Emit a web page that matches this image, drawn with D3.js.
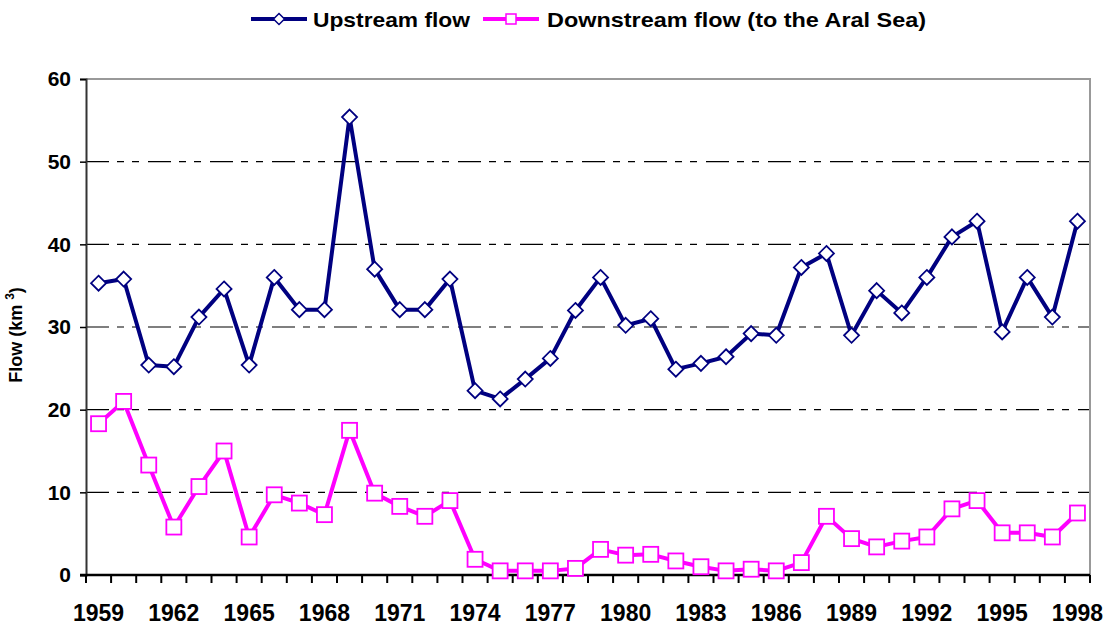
<!DOCTYPE html>
<html>
<head>
<meta charset="utf-8">
<script src="https://cdn.jsdelivr.net/npm/d3@7"></script>
<style>
  body { margin: 0; background: #fff; }
  text { font-family: Arial, "Liberation Sans", sans-serif; font-weight: bold; fill: #000; }
</style>
</head>
<body>
<div id="chart"></div>
<script>
var years = d3.range(1959, 1999);

var upstream = [35.3, 35.8, 25.4, 25.2, 31.2, 34.6, 25.4, 36.0, 32.1, 32.1,
                55.4, 37.0, 32.1, 32.1, 35.8, 22.3, 21.3, 23.7, 26.2, 32.0,
                36.0, 30.2, 31.0, 24.9, 25.6, 26.4, 29.2, 29.0, 37.2, 38.9,
                29.0, 34.4, 31.7, 36.0, 40.9, 42.8, 29.4, 36.0, 31.2, 42.8];

var downstream = [18.3, 21.0, 13.3, 5.8, 10.7, 15.0, 4.6, 9.7, 8.7, 7.3,
                  17.5, 9.9, 8.3, 7.1, 9.0, 1.9, 0.5, 0.5, 0.5, 0.8,
                  3.1, 2.4, 2.5, 1.7, 1.0, 0.5, 0.7, 0.5, 1.5, 7.1,
                  4.4, 3.4, 4.1, 4.6, 8.0, 9.0, 5.1, 5.1, 4.6, 7.5];

var yTicks = [0, 10, 20, 30, 40, 50, 60];
var xLabels = years.filter(function(d) { return (d - 1959) % 3 === 0; });

var svgWidth = 1110;
var svgHeight = 625;
var margin = { top: 79, right: 20, bottom: 50, left: 86 };
var width = 1090 - margin.left;
var height = 575 - margin.top;

var svg = d3.select("#chart")
  .append("svg")
  .attr("width", svgWidth)
  .attr("height", svgHeight);

var chartGroup = svg.append("g")
  .attr("transform", `translate(${margin.left}, ${margin.top})`);

var xScale = d3.scaleBand()
  .domain(years)
  .range([0, width])
  .padding(0);

var yScale = d3.scaleLinear()
  .domain([0, 60])
  .range([height, 0]);

var cx = function(d, i) { return xScale(years[i]) + xScale.bandwidth() / 2; };

// gridlines (long dash, two short dashes)
chartGroup.selectAll(".grid")
  .data(yTicks.filter(function(d) { return d > 0 && d < 60; }))
  .enter()
  .append("line")
  .attr("x1", 0)
  .attr("x2", width)
  .attr("y1", d => yScale(d))
  .attr("y2", d => yScale(d))
  .attr("stroke", "#000")
  .attr("stroke-width", 1.2)
  .attr("stroke-dasharray", "23,8,7,8,7,9");

// top and right frame
chartGroup.append("path")
  .attr("d", `M0,${yScale(60)}H${width}V${height}`)
  .attr("fill", "none")
  .attr("stroke", "#999")
  .attr("stroke-width", 2);

// y axis
var leftAxis = d3.axisLeft(yScale)
  .tickValues(yTicks)
  .tickSize(6)
  .tickPadding(9);

var yAxisG = chartGroup.append("g").call(leftAxis);
yAxisG.select(".domain").attr("stroke", "#333").attr("stroke-width", 2);
yAxisG.selectAll(".tick line").attr("stroke", "#000").attr("stroke-width", 1.5);
yAxisG.selectAll("text")
  .attr("font-size", "21px")
  .attr("font-family", "Arial, 'Liberation Sans', sans-serif")
  .attr("font-weight", "bold")
  .attr("fill", "#000");

// x axis: ticks between categories
var bounds = years.map(function(y) { return xScale(y); }).concat([width]);
chartGroup.selectAll(".xtick")
  .data(bounds)
  .enter()
  .append("line")
  .attr("x1", d => d)
  .attr("x2", d => d)
  .attr("y1", height)
  .attr("y2", height + 8)
  .attr("stroke", "#000")
  .attr("stroke-width", 2);

chartGroup.append("line")
  .attr("x1", -6)
  .attr("x2", width)
  .attr("y1", height)
  .attr("y2", height)
  .attr("stroke", "#000")
  .attr("stroke-width", 2.5);

chartGroup.selectAll(".xlabel")
  .data(xLabels)
  .enter()
  .append("text")
  .attr("x", d => xScale(d) + xScale.bandwidth() / 2)
  .attr("y", height + 46)
  .attr("text-anchor", "middle")
  .attr("font-size", "23px")
  .text(d => d);

// y axis title
var yTitle = svg.append("text")
  .attr("transform", `translate(22, ${margin.top + height / 2 + 8}) rotate(-90)`)
  .attr("text-anchor", "middle")
  .attr("font-size", "18px");
yTitle.append("tspan").text("Flow (km ");
yTitle.append("tspan").attr("font-size", "12px").attr("dy", -8).text("3");
yTitle.append("tspan").attr("dy", 8).text(")");

// lines
var line = d3.line().x(cx).y(d => yScale(d));

chartGroup.append("path")
  .datum(upstream)
  .attr("d", line)
  .attr("fill", "none")
  .attr("stroke", "#000080")
  .attr("stroke-width", 4)
  .attr("stroke-linejoin", "round");

chartGroup.append("path")
  .datum(downstream)
  .attr("d", line)
  .attr("fill", "none")
  .attr("stroke", "#FF00FF")
  .attr("stroke-width", 4)
  .attr("stroke-linejoin", "round");

var diamond = function(r) { return `M0,${-r}L${r},0L0,${r}L${-r},0Z`; };

chartGroup.selectAll(".upMarker")
  .data(upstream)
  .enter()
  .append("path")
  .attr("transform", (d, i) => `translate(${cx(d, i)}, ${yScale(d)})`)
  .attr("d", diamond(7.5))
  .attr("fill", "#fff")
  .attr("stroke", "#000080")
  .attr("stroke-width", 1.8);

chartGroup.selectAll(".downMarker")
  .data(downstream)
  .enter()
  .append("rect")
  .attr("x", (d, i) => cx(d, i) - 7.5)
  .attr("y", d => yScale(d) - 7.5)
  .attr("width", 15)
  .attr("height", 15)
  .attr("fill", "#fff")
  .attr("stroke", "#FF00FF")
  .attr("stroke-width", 1.8);

// legend
var legend = svg.append("g").attr("transform", "translate(0, 19)");

var up = legend.append("g").attr("transform", "translate(251, 0)");
up.append("line").attr("x1", 0).attr("x2", 56).attr("stroke", "#000080").attr("stroke-width", 4);
up.append("path").attr("transform", "translate(28,0)").attr("d", diamond(5.5))
  .attr("fill", "#fff").attr("stroke", "#000080").attr("stroke-width", 1.5);
up.append("text").attr("x", 62).attr("y", 8).attr("font-size", "21px")
  .attr("textLength", 157).attr("lengthAdjust", "spacingAndGlyphs").text("Upstream flow");

var down = legend.append("g").attr("transform", "translate(483, 0)");
down.append("line").attr("x1", 0).attr("x2", 56).attr("stroke", "#FF00FF").attr("stroke-width", 4);
down.append("rect").attr("x", 23).attr("y", -5).attr("width", 10).attr("height", 10)
  .attr("fill", "#fff").attr("stroke", "#FF00FF").attr("stroke-width", 1.5);
down.append("text").attr("x", 64).attr("y", 8).attr("font-size", "21px")
  .attr("textLength", 379).attr("lengthAdjust", "spacingAndGlyphs").text("Downstream flow (to the Aral Sea)");
</script>
</body>
</html>
